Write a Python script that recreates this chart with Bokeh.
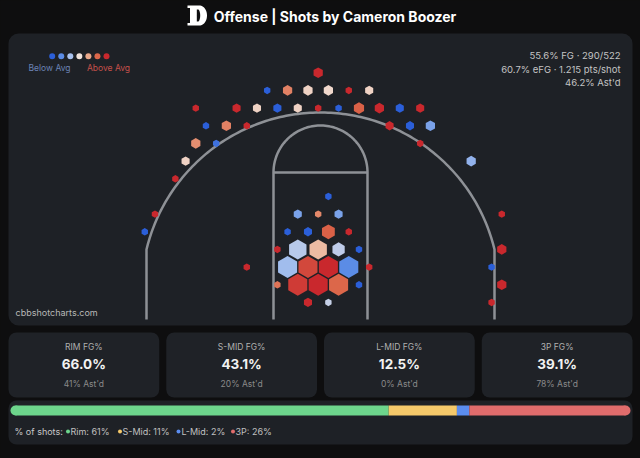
import math
import numpy as np
from bokeh.plotting import figure
from bokeh.models import Range1d, BoxAnnotation
from bokeh.core.properties import value
from bokeh.embed import file_html
from bokeh.resources import INLINE

# ----------------------------- data -----------------------------
side_label = "Offense"
player_name = "Cameron Boozer"

fg_pct = 55.6
fg_made = 290
fg_att = 522
efg_pct = 60.7
pts_per_shot = 1.215
astd_pct = 46.2

zone_names = ["RIM", "S-MID", "L-MID", "3P"]
zone_short = ["Rim", "S-Mid", "L-Mid", "3P"]
zone_fg = [66.0, 43.1, 12.5, 39.1]
zone_astd = [41, 20, 0, 78]
zone_share = [61, 11, 2, 26]

legend_levels = [-3, -2, -1, 0, 1, 2, 3]

# hex cells: grid row (0 = farthest from basket) and half-step column (0 = middle)
hex_row = [0,
           1, 1, 1, 1, 1, 1,
           2, 2, 2, 2, 2, 2, 2, 2, 2, 2, 2,
           3, 3, 3, 3, 3, 3,
           4, 4, 4,
           5, 5,
           6,
           7,
           8, 8, 8, 8, 8,
           9, 9, 9, 9, 9,
           10, 10, 10, 10, 10, 10,
           11, 11, 11, 11, 11, 11, 11,
           12, 12, 12, 12, 12, 12,
           13, 13, 13]
hex_col = [0,
           -5, -3, -1, 1, 3, 5,
           -12, -8, -6, -4, -2, 0, 2, 4, 6, 8, 10,
           -11, -9, -7, 7, 9, 11,
           -12, -10, 10,
           -13, 15,
           -14,
           1,
           -16, -2, 0, 2, 18,
           -17, -3, -1, 1, 3,
           -4, -2, 0, 2, 4, 18,
           -7, -3, -1, 1, 3, 5, 17,
           -4, -2, 0, 2, 4, 18,
           -1, 1, 17]
hex_att = [3,
           1, 3, 3, 3, 1, 2,
           1, 2, 2, 2, 2, 1, 1, 4, 3, 2, 2,
           1, 3, 1, 2, 2, 3,
           3, 1, 1,
           2, 3,
           1,
           1,
           1, 2, 1, 2, 1,
           1, 1, 2, 8, 1,
           1, 20, 20, 7, 1, 3,
           1, 30, 45, 65, 28, 1, 1,
           1, 35, 80, 30, 1, 3,
           2, 1, 1]
# FG% relative to average, on the legend's -3 (below) .. +3 (above) scale
hex_rel = [3,
           -3, 1.6, 0.3, 0.2, 3, 0.3,
           3, 3, 0.3, -3, 0.3, 3, -3, 2.1, 3, -3, 3,
           -3, 1.6, 3, 3, -3, -1.6,
           1.4, -2.6, 3,
           0.3, -1.3,
           3,
           -3,
           3, -1.6, 1.5, -1.6, 3,
           -3, -3, -3, 2.1, 3,
           3, -0.8, 0.7, -0.7, -3, 3,
           3, -1.1, 2.5, 3, -2, 3, -3,
           1.8, 2.7, 3, 2, -3, 3,
           3, -0.6, 3]

# ----------------------------- style -----------------------------
BG = "#0e0e0f"
PANEL = "#1e2126"
CARD = "#1f2227"
COURT = "#8e9196"
FONT = value("Inter")
PALETTE = ["#2b5fd9", "#5b8ce6", "#a9c2ee", "#f1e4dc", "#eaa98b", "#dc674a", "#c9282d"]
ZONE_COLORS = ["#6dd58c", "#f5c96a", "#5b8def", "#e06c6c"]


def hex_to_rgb(h):
    return tuple(int(h[i:i + 2], 16) for i in (1, 3, 5))


def rel_color(v):
    t = min(max(v + 3, 0), 6)
    i = min(int(math.floor(t)), 5)
    f = t - i
    a, b = hex_to_rgb(PALETTE[i]), hex_to_rgb(PALETTE[i + 1])
    c = [round(a[k] + (b[k] - a[k]) * f) for k in range(3)]
    return "#%02x%02x%02x" % tuple(c)


W, H = 640, 458


def X(px):
    return px


def Y(py):
    return H - py


p = figure(width=W, height=H, x_range=Range1d(0, W), y_range=Range1d(0, H),
           output_backend="svg", toolbar_location=None,
           x_axis_type=None, y_axis_type=None, min_border=0,
           background_fill_color=BG, border_fill_color=BG, outline_line_color=None)

# court coordinates in feet, hoop at (0, 0), 8 px per foot
PXFT = 8.0
HOOP_PX, HOOP_PY = 320, 291
p.extra_x_ranges = {"court": Range1d(-HOOP_PX / PXFT, (W - HOOP_PX) / PXFT)}
p.extra_y_ranges = {"court": Range1d((HOOP_PY - H) / PXFT, HOOP_PY / PXFT)}


def rbox(l, r, t, b, color, radius):
    p.add_layout(BoxAnnotation(left=X(l), right=X(r), top=Y(t), bottom=Y(b),
                               fill_color=color, fill_alpha=1, line_color=None,
                               border_radius=radius, level="underlay"))


# panels
rbox(8, 632, 33, 325, PANEL, 10)
card_w = (624 - 3 * 7) / 4
for i in range(4):
    l = 8 + i * (card_w + 7)
    rbox(l, l + card_w, 332, 397, CARD, 8)
rbox(8, 632, 400, 444, PANEL, 8)

# ---- court lines ----
R3, CX, BASE = 22.375, 21.75, -3.5
th0 = math.acos(CX / R3)
ang = np.linspace(math.pi - th0, th0, 160)
arc_x = [-CX, -CX] + list(R3 * np.cos(ang)) + [CX, CX]
arc_y = [BASE, R3 * math.sin(th0)] + list(R3 * np.sin(ang)) + [R3 * math.sin(th0), BASE]
p.line(arc_x, arc_y, line_color=COURT, line_width=2.5, line_join="round",
       x_range_name="court", y_range_name="court")
LANE, FT = 5.875, 14.875
p.line([-LANE, -LANE, LANE, LANE], [BASE, FT, FT, BASE], line_color=COURT, line_width=2.5,
       x_range_name="court", y_range_name="court")
ca = np.linspace(0, math.pi, 80)
p.line(list(LANE * np.cos(ca)), list(FT + LANE * np.sin(ca)), line_color=COURT, line_width=2.5,
       x_range_name="court", y_range_name="court")

# ---- hexes ----
HEX_STEP = 2.55
ROW_STEP = HEX_STEP * math.sqrt(3) / 2
GX0, GY0 = -0.29, 27.34
hx = [GX0 + c * HEX_STEP / 2 for c in hex_col]
hy = [GY0 - r * ROW_STEP for r in hex_row]
hsize = [2 * min(11.0, 3.7 * a ** (1 / 3)) for a in hex_att]
hcol = [rel_color(v) for v in hex_rel]
p.scatter(hx, hy, size=hsize, marker="hex", angle=math.pi / 6, fill_color=hcol,
          line_color=None, x_range_name="court", y_range_name="court")

# ---- legend (top-left) ----
p.scatter([X(51.7 + 9.05 * i) for i in range(7)], [Y(55.7)] * 7, size=6, marker="circle",
          fill_color=[rel_color(v) for v in legend_levels], line_color=None)
p.text([X(49)], [Y(67.5)], text=["Below Avg"], text_font=FONT, text_font_size="8.5px",
       text_color="#6b82b4", text_align="center", text_baseline="middle")
p.text([X(108)], [Y(67.5)], text=["Above Avg"], text_font=FONT, text_font_size="8.5px",
       text_color="#c4504a", text_align="center", text_baseline="middle")

# ---- stats (top-right) ----
stats = [f"{fg_pct:.1f}% FG · {fg_made}/{fg_att}",
         f"{efg_pct:.1f}% eFG · {pts_per_shot:.3f} pts/shot",
         f"{astd_pct:.1f}% Ast'd"]
p.text([X(620)] * 3, [Y(55), Y(68.5), Y(82)], text=stats, text_font=FONT,
       text_font_size="9.5px", text_color="#c4c4c4", text_align="right", text_baseline="middle")

p.text([X(15)], [Y(312)], text=["cbbshotcharts.com"], text_font=FONT, text_font_size="9px",
       text_color="#b8b8b8", text_align="left", text_baseline="middle")

# ---- title ----
ell = np.linspace(math.pi / 2, -math.pi / 2, 30)
d_x = [187, 199] + [199 + 7.5 * math.cos(a) for a in ell] + [199, 187, 187, 189.5, 189.5, 187]
d_y = [5, 5] + [15 - 10 * math.sin(a) for a in ell] + [25, 25, 22.5, 22.5, 7.5, 7.5]
p.patch([X(v) for v in d_x], [Y(v) for v in d_y], fill_color="white", line_color=None)
ell2 = np.linspace(math.pi / 2, -math.pi / 2, 20)
s_x = [196.3] + [197.5 + 2.2 * math.cos(a) for a in ell2] + [196.3]
s_y = [9] + [15 - 6 * math.sin(a) for a in ell2] + [21]
p.patch([X(v) for v in s_x], [Y(v) for v in s_y], fill_color=BG, line_color=None)
p.text([X(334.5)], [Y(16)], text=[f"{side_label} | Shots by {player_name}"], text_font=FONT,
       text_font_size="14px", text_font_style="bold", text_color="#ffffff",
       text_align="center", text_baseline="middle")

# ---- zone cards ----
cx = [X(8 + i * (card_w + 7) + card_w / 2) for i in range(4)]
p.text(cx, [Y(346)] * 4, text=[f"{n} FG%" for n in zone_names], text_font=FONT,
       text_font_size="8.5px", text_color="#b0b0b0", text_align="center", text_baseline="middle")
p.text(cx, [Y(363)] * 4, text=[f"{v:.1f}%" for v in zone_fg], text_font=FONT,
       text_font_size="13.5px", text_font_style="bold", text_color="#f2f2f2",
       text_align="center", text_baseline="middle")
p.text(cx, [Y(383)] * 4, text=[f"{a}% Ast'd" for a in zone_astd], text_font=FONT,
       text_font_size="8.5px", text_color="#8a8a8a", text_align="center", text_baseline="middle")

# ---- shot share bar ----
bx0, bw, by, bh = X(10), 620.0, Y(410), 10
cum = np.cumsum([0] + zone_share)
lefts = [bx0 + cum[i] * bw / 100 for i in range(4)]
rights = [bx0 + cum[i + 1] * bw / 100 for i in range(4)]
lefts[0] += bh / 2
rights[3] -= bh / 2
p.hbar(y=[by] * 4, height=bh, left=lefts, right=rights, fill_color=ZONE_COLORS, line_color=None)
p.scatter([bx0 + bh / 2, bx0 + bw - bh / 2], [by, by], size=bh, marker="circle",
          fill_color=[ZONE_COLORS[0], ZONE_COLORS[3]], line_color=None)

ly = Y(431)
p.text([X(14)], [ly], text=["% of shots:"], text_font=FONT, text_font_size="9px",
       text_color="#c8c8c8", text_align="left", text_baseline="middle")
dot_x = [67.5, 119.5, 178, 232.5]
lab_x = [70, 122, 181, 235]
p.scatter([X(v) for v in dot_x], [ly] * 4, size=4, marker="circle", fill_color=ZONE_COLORS,
          line_color=None)
p.text([X(v) for v in lab_x], [ly] * 4,
       text=[f"{n}: {s}%" for n, s in zip(zone_short, zone_share)], text_font=FONT,
       text_font_size="9px", text_color="#c0c0c0", text_align="left", text_baseline="middle")

html = file_html(p, INLINE, title="Shots by " + player_name)
html = html.replace("<head>", "<head><style>body{background:%s;}</style>" % BG, 1)
open("out.html", "w").write(html)
